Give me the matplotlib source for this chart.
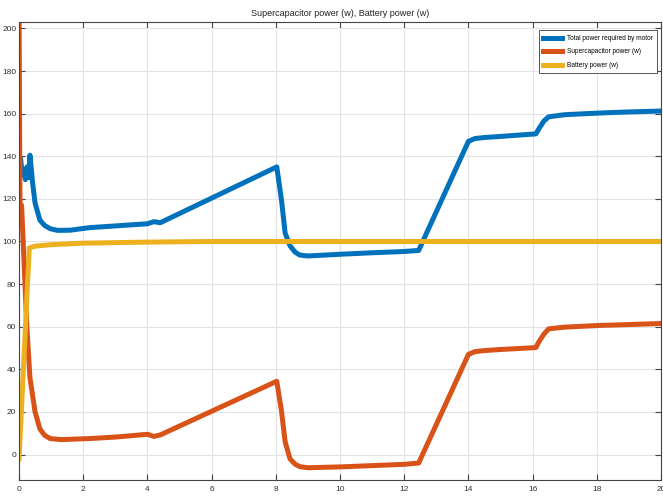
import matplotlib.pyplot as plt
import numpy as np

# valori (tempo in s, potenza in w)
t_tot = [0.0, 0.05, 0.1, 0.15, 0.2, 0.25, 0.3, 0.34, 0.42, 0.5, 0.65, 0.8, 0.97, 1.2, 1.6,
         2.2, 3.0, 4.0, 4.2, 4.4, 8.03, 8.18, 8.29, 8.44, 8.6, 8.75, 9.0, 10.0, 11.0, 12.0,
         12.45, 14.0, 14.2, 14.5, 15.0, 16.1, 16.2, 16.35, 16.5, 17.0, 18.1, 19.0, 20.0]
p_tot = [138, 139, 131, 134, 129, 135, 130, 140.5, 128, 118, 110, 107.5, 106, 105.2, 105.3,
         106.5, 107.3, 108.3, 109.3, 108.8, 135, 119, 104, 98, 95, 93.6, 93.2, 94, 94.7, 95.3,
         95.8, 147, 148.3, 148.8, 149.3, 150.5, 153, 156.5, 158.5, 159.5, 160.3, 160.8, 161.2]

t_sc = [0.0, 0.03, 0.08, 0.24, 0.34, 0.5, 0.65, 0.8, 0.97, 1.3, 2.2, 3.0, 4.0, 4.2, 4.4,
        8.03, 8.18, 8.29, 8.44, 8.6, 8.75, 9.0, 10.0, 11.0, 12.0, 12.45, 14.0, 14.2, 14.5,
        15.0, 16.1, 16.2, 16.35, 16.5, 17.0, 18.1, 19.0, 20.0]
p_sc = [215, 118, 117, 61, 36, 20, 12, 9, 7.5, 7, 7.5, 8.2, 9.5, 8.5, 9.2,
        34.4, 20, 6, -2, -4.5, -5.7, -6.2, -5.8, -5.2, -4.6, -4, 47, 48.3, 48.8,
        49.3, 50.2, 53, 56.5, 59, 59.8, 60.6, 61, 61.5]

t_bat = [0.0, 0.32, 0.5, 1.0, 2.0, 4.0, 6.0, 20.0]
p_bat = [-2, 97, 97.8, 98.5, 99.2, 99.7, 100, 100]

plt.rcParams['font.family'] = ['Liberation Sans Narrow', 'Liberation Sans', 'DejaVu Sans']

fig = plt.figure(figsize=(6.63, 4.97), dpi=100)
ax = fig.add_axes([0.0287, 0.034, 0.9683, 0.9217])

ax.plot(t_tot, p_tot, color='#0072BD', lw=3.6, label='Total power required by motor')
ax.plot(t_sc, p_sc, color='#D95319', lw=3.6, label='Supercapacitor power (w)')
ax.plot(t_bat, p_bat, color='#EDB120', lw=3.6, label='Battery power (w)')

ax.set_xlim(0, 20)
ax.set_ylim(-12, 203)
ax.set_xticks(np.arange(0, 21, 2))
ax.set_yticks(np.arange(0, 201, 20))
ax.grid(True, color='#e3e3e3', lw=0.8)
ax.set_axisbelow(True)
ax.tick_params(direction='in', top=True, right=True, labelsize=6, length=4,
               color='#444444', labelcolor='#333333', pad=2)
ax.tick_params(axis='x', pad=4)
for s in ax.spines.values():
    s.set_color('#444444')
    s.set_linewidth(0.8)

ax.set_title('Supercapacitor power (w), Battery power (w)', fontsize=6.5, pad=4, color='#222222')
leg = ax.legend(loc='upper right', bbox_to_anchor=(0.9945, 0.982), fontsize=4.7,
                fancybox=False, framealpha=1, edgecolor='#555555', handlelength=2.8,
                handletextpad=0.8, borderpad=0.7, labelspacing=1.0, borderaxespad=0)
leg.get_frame().set_linewidth(0.7)

fig.savefig('out.png', dpi=100)
